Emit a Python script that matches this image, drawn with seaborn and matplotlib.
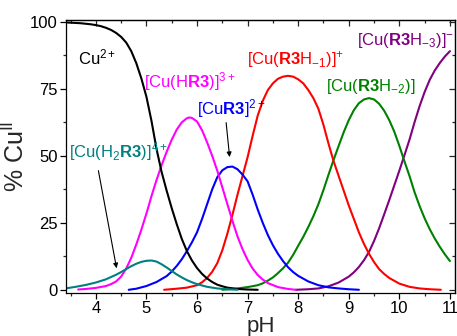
import matplotlib
matplotlib.use("Agg")
import matplotlib.pyplot as plt
import seaborn as sns
import pandas as pd
from matplotlib.ticker import MultipleLocator

# ---- data ----
ph_cu = [3.4, 3.5, 3.6, 3.7, 3.8, 3.9, 4.0, 4.1, 4.2, 4.3, 4.4, 4.5, 4.6, 4.7, 4.8, 4.9, 5.0, 5.1, 5.2, 5.3,
         5.4, 5.5, 5.6, 5.7, 5.8, 5.9, 6.0, 6.1, 6.2, 6.3, 6.4, 6.5, 6.6, 6.8, 7.0, 7.2]
pct_cu = [99.7, 99.6, 99.5, 99.4, 99.2, 99.0, 98.7, 98.3, 97.7, 96.9, 95.8, 94.3, 92.2, 89.0, 84.5, 78.8, 72, 63,
          52.5, 44, 37, 30.5, 24.5, 19, 14.5, 11, 8.2, 6.0, 4.3, 3.0, 2.0, 1.4, 0.9, 0.4, 0.2, 0.1]

ph_h2r3 = [3.4, 3.6, 3.8, 4.0, 4.2, 4.4, 4.5, 4.6, 4.7, 4.8, 4.9, 5.0, 5.1, 5.2, 5.3, 5.4, 5.5, 5.6, 5.7, 5.8,
           5.9, 6.0, 6.2, 6.4, 6.6, 6.8]
pct_h2r3 = [0.6, 1.2, 1.9, 2.8, 4.0, 5.7, 6.7, 7.8, 8.9, 9.8, 10.5, 10.9, 11.0, 10.6, 9.6, 8.4, 7.1, 5.8, 4.7, 3.7,
            2.9, 2.2, 1.2, 0.6, 0.3, 0.1]

ph_hr3 = [3.65, 3.8, 4.0, 4.2, 4.3, 4.4, 4.5, 4.6, 4.7, 4.8, 4.9, 5.0, 5.1, 5.2, 5.3, 5.4, 5.5, 5.6, 5.7, 5.8,
          5.85, 5.9, 6.0, 6.1, 6.2, 6.3, 6.4, 6.5, 6.6, 6.7, 6.8, 6.9, 7.0, 7.1, 7.2, 7.3, 7.4, 7.6, 7.8, 7.95]
pct_hr3 = [0.2, 0.4, 0.8, 1.5, 2.2, 3.2, 5.0, 8, 12, 17, 22.5, 28.5, 35, 41, 46.5, 51.5, 56, 59.8, 62.5, 64,
           64.3, 64.1, 62.8, 59.5, 55, 50, 44.5, 38.3, 32, 25.8, 20, 15.2, 11.2, 8.0, 5.6, 3.9, 2.6, 1.1, 0.4, 0.1]

ph_r3 = [4.65, 4.8, 5.0, 5.2, 5.4, 5.5, 5.6, 5.7, 5.8, 5.9, 6.0, 6.1, 6.2, 6.3, 6.4, 6.5, 6.6, 6.7, 6.8, 6.9,
         7.0, 7.1, 7.2, 7.3, 7.4, 7.5, 7.6, 7.7, 7.8, 7.9, 8.0, 8.2, 8.4, 8.6, 8.8, 9.0, 9.2]
pct_r3 = [0.1, 0.5, 1.5, 3, 5.2, 6.9, 9, 11.5, 14.5, 17.8, 21.5, 26.5, 32, 37.5, 42, 44.6, 45.8, 46.0, 45, 43,
          40.5, 35.5, 30, 25, 20.5, 16.7, 13.5, 10.8, 8.5, 6.7, 5.3, 3.2, 1.8, 1.0, 0.6, 0.3, 0.1]

ph_r3h1 = [5.35, 5.6, 5.8, 6.0, 6.1, 6.2, 6.3, 6.4, 6.5, 6.6, 6.7, 6.8, 6.9, 7.0, 7.1, 7.2, 7.3, 7.4, 7.5, 7.6,
           7.7, 7.8, 7.9, 8.0, 8.1, 8.2, 8.3, 8.4, 8.5, 8.6, 8.7, 8.8, 8.9, 9.0, 9.1, 9.2, 9.3, 9.4, 9.5, 9.6,
           9.7, 9.8, 10.0, 10.2, 10.4, 10.6, 10.82]
pct_r3h1 = [0.1, 0.5, 0.9, 1.8, 2.9, 4.5, 6.8, 10, 14.8, 21, 28, 35.5, 42.5, 49.5, 57.5, 65, 70.5, 74.5, 77, 78.7,
            79.5, 79.8, 79.5, 78.5, 77, 74.5, 71.5, 67.5, 61.5, 54.5, 48, 42.5, 37, 31.5, 26.5, 21.5, 17.2, 13.5, 10.4, 7.8,
            6.0, 4.5, 2.4, 1.2, 0.6, 0.3, 0.1]

ph_r3h2 = [6.5, 6.8, 7.0, 7.2, 7.3, 7.4, 7.5, 7.6, 7.7, 7.8, 7.9, 8.0, 8.1, 8.2, 8.3, 8.4, 8.5, 8.6, 8.7, 8.8,
           8.9, 9.0, 9.1, 9.2, 9.3, 9.4, 9.5, 9.6, 9.7, 9.8, 9.9, 10.0, 10.1, 10.2, 10.3, 10.4, 10.5, 10.6, 10.7, 10.8,
           10.9, 11.0]
pct_r3h2 = [0.1, 0.6, 1.1, 1.8, 2.5, 3.5, 4.7, 6.3, 8.1, 10.2, 13.1, 16.5, 19.8, 23.5, 27.5, 32, 37.3, 43, 48.5, 53.7,
            58.8, 63.3, 67, 69.6, 71, 71.5, 71, 69.4, 66.8, 63.3, 59, 53.7, 48, 42.5, 36.5, 31.3, 26.7, 22.7, 19.2, 16.1,
            13.3, 10.8]

ph_r3h3 = [7.95, 8.2, 8.4, 8.6, 8.8, 9.0, 9.1, 9.2, 9.3, 9.4, 9.5, 9.6, 9.7, 9.8, 9.9, 10.0, 10.1, 10.2, 10.3, 10.4,
           10.5, 10.6, 10.7, 10.8, 10.9, 11.0]
pct_r3h3 = [0.1, 0.3, 0.6, 1.4, 2.8, 5, 6.6, 8.6, 11.1, 14.2, 18.3, 23, 28.2, 33.5, 39, 44.5, 50.2, 56, 62.5, 68.5,
            73.8, 78.3, 81.8, 84.6, 87, 89]

x_ticks = [4, 5, 6, 7, 8, 9, 10, 11]
y_ticks = [0, 25, 50, 75, 100]

series = [
    (ph_r3h3, pct_r3h3, "#800080"),
    (ph_r3h2, pct_r3h2, "#008000"),
    (ph_r3h1, pct_r3h1, "#FF0000"),
    (ph_r3, pct_r3, "#0000FF"),
    (ph_hr3, pct_hr3, "#FF00FF"),
    (ph_cu, pct_cu, "#000000"),
    (ph_h2r3, pct_h2r3, "#008080"),
]

# ---- style ----
sns.set_style("ticks")
plt.rcParams["font.family"] = ["Liberation Sans", "DejaVu Sans"]
plt.rcParams["mathtext.fontset"] = "custom"
plt.rcParams["mathtext.rm"] = "Liberation Sans"
plt.rcParams["mathtext.bf"] = "Liberation Sans:bold"
plt.rcParams["mathtext.it"] = "Liberation Sans:italic"
plt.rcParams["axes.linewidth"] = 0.9

fig = plt.figure(figsize=(4.57, 3.36), dpi=100)
ax = fig.add_axes([66 / 457, 43 / 336, (455 - 66) / 457, (293 - 20) / 336])

for xs, ys, col in series:
    df = pd.DataFrame({"pH": xs, "pct": ys})
    line = sns.lineplot(data=df, x="pH", y="pct", color=col, lw=1.5, ax=ax, sort=False)
for ln in ax.get_lines():
    ln.set_solid_joinstyle("round")

ax.set_xlim(3.41, 11.1)
ax.set_ylim(-1.1, 100.6)
ax.set_xticks(x_ticks)
ax.set_yticks(y_ticks)
ax.xaxis.set_minor_locator(MultipleLocator(0.5))
ax.yaxis.set_minor_locator(MultipleLocator(12.5))
ax.tick_params(which="major", direction="out", length=4, width=0.9, labelsize=12, pad=2, colors="black")
ax.tick_params(which="minor", direction="out", length=2.5, width=0.9)
for s in ax.spines.values():
    s.set_color("black")

top = ax.secondary_xaxis("top")
top.set_xticks(x_ticks)
top.xaxis.set_minor_locator(MultipleLocator(0.5))
top.tick_params(which="major", direction="in", length=4, width=0.9, labeltop=False)
top.tick_params(which="minor", direction="in", length=2.5, width=0.9)
right = ax.secondary_yaxis("right")
right.set_yticks(y_ticks)
right.yaxis.set_minor_locator(MultipleLocator(12.5))
right.tick_params(which="major", direction="in", length=4, width=0.9, labelright=False)
right.tick_params(which="minor", direction="in", length=2.5, width=0.9)

ax.set_xlabel("pH", fontsize=16, labelpad=0)
ax.set_ylabel(r"% Cu$^{\mathrm{II}}$", fontsize=18, labelpad=1)

fs = 12
ax.text(3.64, 84, r"Cu$^{2+}$", color="black", fontsize=fs, va="baseline")
ax.text(4.96, 75.4, r"[Cu(H$\mathbf{R3}$)]$^{3+}$", color="#FF00FF", fontsize=fs, va="baseline")
ax.text(6.0, 65.3, r"[Cu$\mathbf{R3}$]$^{2+}$", color="#0000FF", fontsize=fs, va="baseline")
ax.text(6.99, 84, r"[Cu($\mathbf{R3}$H$_{-1}$)]$^{+}$", color="#FF0000", fontsize=fs, va="baseline")
ax.text(8.54, 74, r"[Cu($\mathbf{R3}$H$_{-2}$)]", color="#008000", fontsize=fs, va="baseline")
ax.text(9.16, 91.4, r"[Cu($\mathbf{R3}$H$_{-3}$)]$^{-}$", color="#800080", fontsize=fs, va="baseline")
ax.text(3.47, 49.3, r"[Cu(H$_{2}$$\mathbf{R3}$)]$^{4+}$", color="#008080", fontsize=fs, va="baseline")

arrow = dict(arrowstyle="-|>", color="black", lw=0.8, mutation_scale=7)
ax.annotate("", xy=(6.65, 48.5), xytext=(6.57, 63.4), arrowprops=arrow)
ax.annotate("", xy=(4.42, 7.1), xytext=(4.04, 45.5), arrowprops=arrow)

fig.savefig("out.png", dpi=100)
